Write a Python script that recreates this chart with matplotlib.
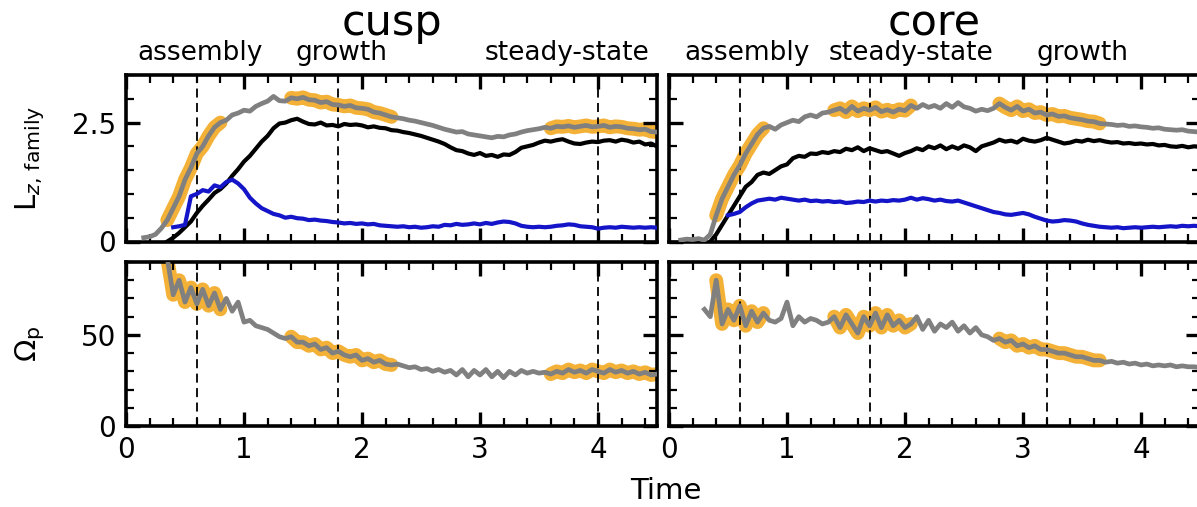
import numpy as np
import matplotlib.pyplot as plt
from matplotlib.ticker import MultipleLocator

STEP = 0.05

# angular momentum per orbit family, cusp run
cusp_total_start = 0.15
cusp_total = [0.08, 0.10, 0.15, 0.28, 0.45, 0.70, 0.95, 1.30, 1.55, 1.85,
              2.00, 2.22, 2.40, 2.50, 2.55, 2.66, 2.70, 2.76, 2.74, 2.84,
              2.90, 2.95, 3.05, 2.96, 2.95, 3.02, 3.00, 3.03, 2.98, 2.97,
              2.92, 2.94, 2.88, 2.87, 2.84, 2.86, 2.81, 2.80, 2.78, 2.72,
              2.70, 2.66, 2.62, 2.60, 2.58, 2.55, 2.53, 2.50, 2.47, 2.44,
              2.40, 2.36, 2.33, 2.30, 2.31, 2.26, 2.24, 2.22, 2.20, 2.18,
              2.21, 2.20, 2.24, 2.26, 2.30, 2.33, 2.35, 2.37, 2.40, 2.38,
              2.42, 2.41, 2.43, 2.40, 2.42, 2.44, 2.41, 2.42, 2.44, 2.40,
              2.42, 2.41, 2.38, 2.37, 2.35, 2.36, 2.31, 2.30]
cusp_black_start = 0.35
cusp_black = [0.00, 0.08, 0.18, 0.30, 0.42, 0.60, 0.75, 0.88, 1.02, 1.10,
              1.22, 1.38, 1.52, 1.68, 1.80, 1.95, 2.10, 2.22, 2.38, 2.48,
              2.50, 2.55, 2.58, 2.52, 2.47, 2.46, 2.50, 2.44, 2.45, 2.42,
              2.47, 2.45, 2.46, 2.44, 2.40, 2.42, 2.39, 2.38, 2.34, 2.33,
              2.30, 2.28, 2.25, 2.22, 2.18, 2.14, 2.10, 2.05, 1.98, 1.92,
              1.90, 1.85, 1.82, 1.86, 1.80, 1.82, 1.78, 1.83, 1.82, 1.88,
              1.97, 2.00, 2.03, 2.08, 2.12, 2.10, 2.13, 2.15, 2.10, 2.06,
              2.05, 2.08, 2.10, 2.09, 2.12, 2.13, 2.10, 2.14, 2.12, 2.08,
              2.10, 2.04, 2.06, 2.00]
cusp_blue_start = 0.40
cusp_blue = [0.30, 0.32, 0.35, 0.95, 1.00, 1.08, 1.05, 1.18, 1.14, 1.25,
             1.30, 1.22, 1.10, 0.92, 0.80, 0.70, 0.64, 0.58, 0.55, 0.50,
             0.52, 0.49, 0.48, 0.45, 0.46, 0.44, 0.43, 0.41, 0.40, 0.38,
             0.39, 0.37, 0.38, 0.36, 0.37, 0.34, 0.33, 0.32, 0.31, 0.32,
             0.30, 0.31, 0.29, 0.30, 0.32, 0.31, 0.35, 0.34, 0.37, 0.35,
             0.36, 0.38, 0.36, 0.39, 0.37, 0.40, 0.42, 0.41, 0.38, 0.33,
             0.31, 0.30, 0.31, 0.30, 0.31, 0.33, 0.34, 0.36, 0.35, 0.32,
             0.31, 0.30, 0.27, 0.29, 0.30, 0.29, 0.31, 0.30, 0.29, 0.30,
             0.29, 0.30, 0.29]
# pattern speed, cusp run
cusp_omega_start = 0.35
cusp_omega = [92, 72, 80, 68, 76, 67, 75, 66, 73, 64,
              70, 63, 68, 57, 58, 55, 54, 53, 51, 49,
              48, 49, 46, 46, 44, 45, 42, 43, 40, 41,
              39, 38, 39, 36, 37, 35, 36, 34, 33.5, 34,
              33, 32, 32.5, 31, 31.5, 30, 31, 29.5, 30.5, 28,
              31, 27, 30.5, 28, 31, 27, 30, 26.5, 30, 28,
              30.5, 29, 30, 29, 29.5, 28.5, 30, 29, 31, 29.5,
              30.5, 29, 31, 30, 29, 31, 29.5, 30.5, 29, 30,
              28.5, 29.5, 28, 28.5]

# angular momentum per orbit family, core run
core_total_start = 0.10
core_total = [0.03, 0.05, 0.04, 0.06, 0.03, 0.15, 0.55, 0.90, 1.15, 1.40,
              1.60, 1.85, 2.05, 2.25, 2.38, 2.42, 2.36, 2.45, 2.50, 2.55,
              2.52, 2.62, 2.66, 2.62, 2.70, 2.72, 2.76, 2.80, 2.72, 2.84,
              2.74, 2.80, 2.76, 2.82, 2.73, 2.77, 2.72, 2.78, 2.75, 2.86,
              2.80, 2.88, 2.82, 2.86, 2.80, 2.90, 2.82, 2.92, 2.83, 2.80,
              2.74, 2.78, 2.75, 2.80, 2.90, 2.82, 2.76, 2.84, 2.74, 2.78,
              2.70, 2.72, 2.66, 2.68, 2.63, 2.64, 2.60, 2.58, 2.56, 2.53,
              2.52, 2.48, 2.47, 2.46, 2.44, 2.45, 2.42, 2.43, 2.41, 2.40,
              2.38, 2.39, 2.36, 2.35, 2.34, 2.35, 2.32, 2.31, 2.30]
core_black_start = 0.35
core_black = [0.00, 0.15, 0.35, 0.55, 0.75, 0.95, 1.15, 1.25, 1.40, 1.45,
              1.42, 1.50, 1.58, 1.62, 1.75, 1.80, 1.78, 1.85, 1.84, 1.88,
              1.86, 1.90, 1.88, 1.95, 1.92, 1.98, 1.90, 1.96, 1.92, 1.88,
              1.90, 1.85, 1.80, 1.86, 1.90, 1.96, 1.92, 2.00, 1.96, 2.02,
              1.94, 2.00, 1.95, 2.02, 1.98, 1.90, 2.00, 2.04, 2.08, 2.14,
              2.10, 2.12, 2.08, 2.16, 2.12, 2.10, 2.13, 2.18, 2.14, 2.10,
              2.06, 2.08, 2.12, 2.10, 2.14, 2.11, 2.13, 2.10, 2.08, 2.09,
              2.06, 2.07, 2.05, 2.06, 2.04, 2.05, 2.02, 2.03, 2.00, 1.99,
              2.01, 1.98, 2.00, 1.99]
core_blue_start = 0.50
core_blue = [0.55, 0.58, 0.62, 0.72, 0.80, 0.86, 0.88, 0.90, 0.88, 0.92,
             0.90, 0.88, 0.86, 0.88, 0.85, 0.86, 0.84, 0.85, 0.83, 0.84,
             0.81, 0.82, 0.84, 0.83, 0.86, 0.84, 0.86, 0.85, 0.87, 0.86,
             0.88, 0.92, 0.88, 0.91, 0.89, 0.86, 0.88, 0.85, 0.84, 0.86,
             0.82, 0.78, 0.74, 0.70, 0.66, 0.62, 0.60, 0.57, 0.56, 0.58,
             0.60, 0.57, 0.52, 0.48, 0.44, 0.42, 0.43, 0.45, 0.44, 0.42,
             0.38, 0.35, 0.33, 0.31, 0.30, 0.29, 0.30, 0.28, 0.29, 0.30,
             0.29, 0.30, 0.31, 0.30, 0.31, 0.32, 0.31, 0.33, 0.32, 0.33,
             0.32]
# pattern speed, core run
core_omega_start = 0.30
core_omega = [64, 60, 80, 56, 64, 58, 66, 55, 63, 57,
              62, 58, 57, 59, 68, 55, 60, 57, 59, 58,
              56, 57, 60, 54, 61, 56, 51, 60, 55, 62,
              54, 61, 55, 58, 54, 56, 60, 53, 58, 52,
              56, 54, 57, 52, 55, 51, 54, 50, 49, 47,
              48, 46, 47, 44, 45, 43, 44, 42, 42, 41,
              40, 40, 39, 38, 38, 37, 36, 36, 35, 35.5,
              34.5, 35, 34, 34.5, 33.5, 34, 33, 33.5, 33, 33.5,
              32.5, 33, 32.5, 32.5, 32]

models = ['cusp', 'core']
phase_names = {'cusp': ['assembly', 'growth', 'steady-state'],
               'core': ['assembly', 'steady-state', 'growth']}
phase_label_x = {'cusp': [0.63, 1.83, 3.74], 'core': [0.66, 2.05, 3.50]}
phase_lines = {'cusp': [0.6, 1.8, 4.0], 'core': [0.6, 1.7, 3.2]}
highlight = {'cusp': [(0.35, 0.83), (1.37, 2.27), (3.60, 4.50)],
             'core': [(0.37, 0.84), (1.38, 2.06), (2.78, 3.65)]}

series = {
    'cusp': dict(total=(cusp_total_start, cusp_total),
                 black=(cusp_black_start, cusp_black),
                 blue=(cusp_blue_start, cusp_blue),
                 omega=(cusp_omega_start, cusp_omega)),
    'core': dict(total=(core_total_start, core_total),
                 black=(core_black_start, core_black),
                 blue=(core_blue_start, core_blue),
                 omega=(core_omega_start, core_omega)),
}


def times(start, vals):
    return np.round(start + STEP * np.arange(len(vals)), 3)


def highlighted(ax, t, y, windows):
    for t0, t1 in windows:
        m = (t >= t0 - 1e-9) & (t <= t1 + 1e-9)
        ax.plot(t[m], y[m], color='#f2a922', lw=10, alpha=0.9,
                solid_capstyle='round', solid_joinstyle='round', zorder=1)


plt.rcParams['font.family'] = 'DejaVu Sans'
plt.rcParams['mathtext.fontset'] = 'dejavusans'

fig = plt.figure(figsize=(11.97, 5.07), dpi=100)
W, H = 1197.0, 507.0
lefts = {'cusp': 126 / W, 'core': 669 / W}
width = 531 / W
top_box = ((H - 241.5) / H, 166.5 / H)
bot_box = ((H - 426) / H, 164 / H)

for model in models:
    d = series[model]
    ax1 = fig.add_axes([lefts[model], top_box[0], width, top_box[1]])
    ax2 = fig.add_axes([lefts[model], bot_box[0], width, bot_box[1]])

    tt, yt = times(*d['total']), np.array(d['total'][1])
    tb, yb = times(*d['black']), np.array(d['black'][1])
    tu, yu = times(*d['blue']), np.array(d['blue'][1])
    to, yo = times(*d['omega']), np.array(d['omega'][1])

    highlighted(ax1, tt, yt, highlight[model])
    ax1.plot(tb, yb, color='black', lw=3.0, zorder=3)
    ax1.plot(tu, yu, color='#1414c8', lw=3.0, zorder=3)
    ax1.plot(tt, yt, color='gray', lw=3.4, zorder=4)

    highlighted(ax2, to, yo, highlight[model])
    ax2.plot(to, yo, color='gray', lw=3.4, zorder=4)

    for ax in (ax1, ax2):
        for xv in phase_lines[model]:
            ax.axvline(xv, color='black', lw=1.3, ls=(0, (5, 3)), zorder=2)
        ax.set_xlim(0, 4.5)
        ax.xaxis.set_major_locator(MultipleLocator(1))
        ax.xaxis.set_minor_locator(MultipleLocator(0.2))
        ax.tick_params(which='both', direction='in', top=True, right=True,
                       labelsize=20, pad=7)
        ax.tick_params(which='major', length=10, width=2.4)
        ax.tick_params(which='minor', length=6, width=1.6)
        for sp in ax.spines.values():
            sp.set_linewidth(2.6)

    ax1.set_ylim(0, 3.5)
    ax1.set_yticks([0, 2.5])
    ax1.set_yticklabels(['0', '2.5'])
    ax1.yaxis.set_minor_locator(MultipleLocator(0.5))
    ax1.tick_params(labelbottom=False)

    ax2.set_ylim(0, 90)
    ax2.set_yticks([0, 50])
    ax2.yaxis.set_minor_locator(MultipleLocator(10))

    if model == 'core':
        ax1.tick_params(labelleft=False)
        ax2.tick_params(labelleft=False)

    ax1.text(0.5, 1.24, model, transform=ax1.transAxes, ha='center',
             va='baseline', fontsize=31)
    for name, xv in zip(phase_names[model], phase_label_x[model]):
        ax1.text(xv, 1.09, name, transform=ax1.get_xaxis_transform(),
                 ha='center', va='baseline', fontsize=19)

fig.text(30 / W, 1 - 158 / H, r'$\mathrm{L}_{z,\,\mathrm{family}}$',
         rotation=90, ha='center', va='center', fontsize=21)
fig.text(30 / W, 1 - 344 / H, r'$\Omega_\mathrm{p}$',
         rotation=90, ha='center', va='center', fontsize=21)
fig.text(666 / W, 8 / H, 'Time', ha='center', va='baseline', fontsize=21)

fig.savefig('out.png', dpi=100)
